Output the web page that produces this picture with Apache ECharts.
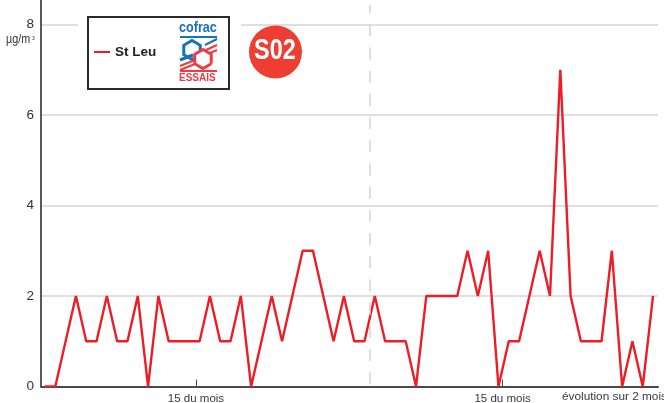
<!DOCTYPE html>
<html><head><meta charset="utf-8">
<style>html,body{margin:0;padding:0;background:#fff}#c{width:664px;height:403px}</style>
<script src="https://cdn.jsdelivr.net/npm/echarts@6/dist/echarts.min.js"></script>
</head><body><div id="c"></div>
<script>
const seriesName = 'St Leu';
const values = [0,0,1,2,1,1,2,1,1,2,0,2,1,1,1,1,2,1,1,2,0,1,2,1,2,3,3,2,1,2,1,1,2,1,1,1,0,2,2,2,2,3,2,3,0,1,1,2,3,2,7,2,1,1,1,3,0,1,0,2];
const yTicks = [0,2,4,6,8];
const monthTicks = [14.65,44.4];
const monthLabel = '15 du mois';
const midMark = 31.55;
const FONT = '"Liberation Sans",sans-serif';
const RED='#ee1c25', BLUE='#1673b8', PINK='#ee3a43', DARK='#2b2b2b';
function hex(cx,cy,r){const p=[];for(let i=0;i<6;i++){const a=Math.PI/3*i+Math.PI/6;p.push([cx+r*Math.cos(a),cy+r*Math.sin(a)]);}return p;}
const bar=(pts,color,w)=>({type:'polyline',z:3,shape:{points:pts},style:{stroke:color,lineWidth:w,fill:null}});
const chart=echarts.init(document.getElementById('c'),null,{renderer:'canvas'});
chart.setOption({
 animation:false,
 grid:{left:41,right:6,top:0,bottom:16.5,outerBoundsMode:'none'},
 xAxis:{type:'value',min:-0.39,max:59.48,
  axisLine:{onZero:false,lineStyle:{color:'#4a4a4a',width:2}},
  axisTick:{show:true,inside:true,length:7,customValues:monthTicks,lineStyle:{color:'#4a4a4a',width:1}},
  axisLabel:{customValues:monthTicks,formatter:()=>monthLabel,color:'#3a3a3a',fontFamily:FONT,fontSize:11.5,margin:6},
  splitLine:{show:false}},
 yAxis:{type:'value',min:0,max:8.54,
  axisLine:{show:true,onZero:false,lineStyle:{color:'#222',width:1.5}},
  axisTick:{show:false,customValues:yTicks},
  axisLabel:{customValues:yTicks,color:'#333',fontFamily:FONT,fontSize:13.5,margin:7},
  splitLine:{show:true,lineStyle:{color:'#d4d4d4',width:1.5}}},
 legend:{show:true,left:89,top:40,z:20,icon:'rect',itemWidth:16,itemHeight:2,itemGap:5,
  textStyle:{fontFamily:FONT,fontSize:13.5,fontWeight:'bold',color:'#222'},data:[seriesName]},
 graphic:[
  {type:'rect',z:1,shape:{x:78,y:18,width:163,height:14},style:{fill:'#fff'}},
  {type:'rect',z:2,shape:{x:88,y:17,width:141,height:72},style:{fill:'#fff',stroke:DARK,lineWidth:2}},
  {type:'text',z:3,x:179,y:21,scaleX:0.9,style:{text:'cofrac',fontFamily:FONT,fontWeight:'bold',fontSize:14,fill:BLUE,letterSpacing:0.6}},
  bar([[180,37],[217,37]],BLUE,2),
  bar([[205,45],[217,39]],BLUE,2),
  bar([[180,60],[193,55]],BLUE,3),
  {type:'polyline',z:3,shape:{points:[...hex(192,50,9.5),hex(192,50,9.5)[0]]},style:{stroke:BLUE,lineWidth:3,fill:null}},
  bar([[180,66],[200,58]],PINK,2),bar([[180,70],[200,62]],PINK,2),
  bar([[206,50],[217,45]],PINK,2),bar([[208,54],[217,50]],PINK,2),
  {type:'polyline',z:3,shape:{points:[...hex(203,59,9.5),hex(203,59,9.5)[0]]},style:{stroke:PINK,lineWidth:3,fill:'#fff'}},
  bar([[180,71],[217,71]],PINK,2),
  {type:'text',z:3,x:179,y:73,style:{text:'ESSAIS',fontFamily:FONT,fontWeight:'bold',fontSize:10,fill:PINK,letterSpacing:1.4}},
  {type:'circle',z:3,shape:{cx:275.5,cy:52,r:26.5},style:{fill:'#ee3e34'}},
  {type:'text',z:4,x:254,y:36.5,scaleX:0.81,style:{text:'S02',fontFamily:FONT,fontWeight:'bold',fontSize:29,fill:'#fff'}},
  {type:'text',z:4,x:6,y:34,scaleX:0.9,style:{text:'µg/m',fontFamily:FONT,fontSize:12,fill:'#333'}},
  {type:'text',z:4,x:32,y:36,style:{text:'3',fontFamily:FONT,fontSize:5,fill:'#333'}},
  {type:'text',z:4,x:562,y:391,style:{text:'évolution sur 2 mois',fontFamily:FONT,fontSize:11.8,fill:'#3a3a3a'}}
 ],
 series:[{name:seriesName,type:'line',symbol:'none',z:3,
  data:values.map((v,i)=>[i,v]),
  lineStyle:{color:RED,width:2.4},itemStyle:{color:RED},
  markLine:{silent:true,symbol:'none',label:{show:false},animation:false,
   lineStyle:{color:'#d4d4d4',width:1.5,type:[12,11.2]},
   data:[[{xAxis:midMark,yAxis:0.05},{xAxis:midMark,yAxis:8.43}]]}}]
});
</script></body></html>
